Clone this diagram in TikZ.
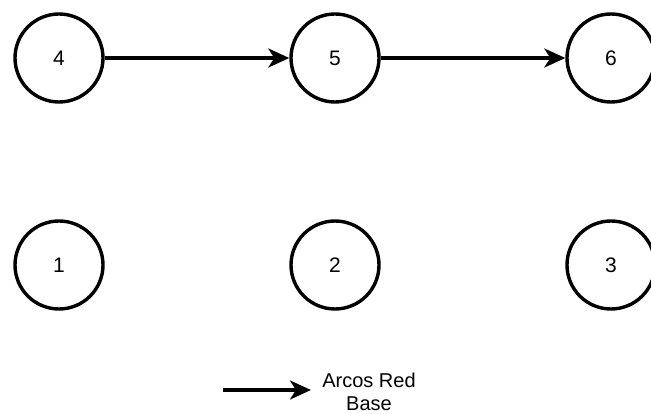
\documentclass[tikz,border=0pt]{standalone}
\usepackage{fontspec}
\setmainfont{Liberation Sans}
\usetikzlibrary{arrows.meta}
\begin{document}
\begin{tikzpicture}[x=1pt,y=-1pt,
  vertex/.style={circle,draw=black,line width=3.4pt,minimum size=88pt,inner sep=0pt,
    font=\fontsize{21}{24}\selectfont},
  arc/.style={line width=3.2pt,-{Stealth[length=21pt,width=19pt,inset=6pt]}},
  legendtext/.style={align=center,font=\fontsize{20}{23}\selectfont,inner sep=0pt}]
  \useasboundingbox[fill=white] (0,0) rectangle (651,414);
  % network nodes
  \node[vertex] (n4) at (59,58) {4};
  \node[vertex] (n5) at (335,58) {5};
  \node[vertex] (n6) at (611,58) {6};
  \node[vertex] (n1) at (59,265) {1};
  \node[vertex] (n2) at (335,265) {2};
  \node[vertex] (n3) at (611,265) {3};
  % base network arcs
  \draw[arc] (n4) -- (n5);
  \draw[arc] (n5) -- (n6);
  % legend
  \coordinate (la) at (223,390);
  \coordinate (lb) at (311,390);
  \draw[arc] (la) -- (lb);
  \node[legendtext] (lt) at (369,392) {Arcos Red\\Base};
\end{tikzpicture}
\end{document}
